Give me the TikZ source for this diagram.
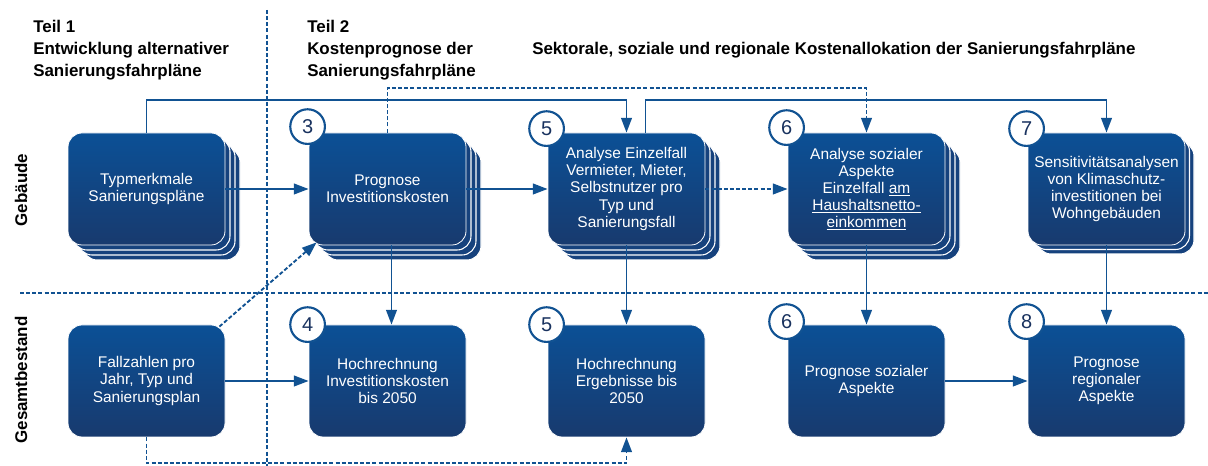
\documentclass[tikz,border=0pt]{standalone}
\usepackage{fontspec}
\setmainfont{Liberation Sans}
\usetikzlibrary{arrows.meta,calc}
\definecolor{lc}{RGB}{17,82,146}
\definecolor{bxtop}{RGB}{11,80,150}
\definecolor{bxbot}{RGB}{24,58,110}
\definecolor{layerc}{RGB}{22,66,125}
\definecolor{numc}{RGB}{25,50,95}
\newcommand{\stk}[4]{%
  \foreach \k in {#3,...,1} {
    \draw[layer] (#1-78.5+\k*#4, #2-56+\k*#4) rectangle ++(157,112);
  }}
\begin{document}
\begin{tikzpicture}[x=0.75pt,y=-0.75pt,
  box/.style={rounded corners=10.5pt, minimum width=117.75pt, minimum height=84pt,
    top color=bxtop, bottom color=bxbot, draw=white, line width=0.6pt,
    text=white, align=center, inner sep=0pt,
    font=\fontsize{11.6pt}{12.8pt}\selectfont},
  layer/.style={rounded corners=10.5pt, fill=layerc, draw=white, line width=0.8pt},
  conn/.style={draw=lc, line width=1.4pt, -{Triangle[length=11pt,width=8pt]}},
  plain/.style={draw=lc, line width=1.4pt},
  dsh/.style={dash pattern=on 3pt off 1.6pt},
  sep/.style={draw=lc, line width=1.1pt, dash pattern=on 3pt off 1.6pt},
  hdr/.style={font=\bfseries\fontsize{12.7pt}{16.5pt}\selectfont, inner sep=0pt, align=left, text=black},
  num/.style={circle, draw=lc, line width=1.6pt, fill=white, minimum size=26pt, inner sep=0pt,
    text=numc, font=\fontsize{15pt}{15pt}\selectfont}
]
\useasboundingbox (0,0) rectangle (1208,466);

% headers
\node[hdr, anchor=north west] (t1) at (33,20) {Teil 1\\Entwicklung alternativer\\Sanierungsfahrpläne};
\node[hdr, anchor=north west] (t2) at (307,20) {Teil 2\\Kostenprognose der\\Sanierungsfahrpläne};
\node[hdr, anchor=north west] (t3) at (532,42) {Sektorale, soziale und regionale Kostenallokation der Sanierungsfahrpläne};
\node[hdr, rotate=90] (rg) at (21,190) {Gebäude};
\node[hdr, rotate=90] (rb) at (21,380) {Gesamtbestand};

% separators
\coordinate (s1) at (267,10);
\coordinate (s2) at (267,466);
\coordinate (s3) at (20,293);
\coordinate (s4) at (1208,293);
\draw[sep] (s1) -- (s2);
\draw[sep] (s3) -- (s4);

% stacks
\stk{146.5}{189}{3}{5}
\stk{387.5}{189}{3}{5}
\stk{626.5}{189}{3}{5}
\stk{866.5}{189}{3}{5}
\stk{1106.5}{189}{2}{4.5}

% boxes
\node[box] (nA) at (146.5,189) {Typmerkmale\\Sanierungspläne};
\node[box] (n3) at (387.5,189) {Prognose\\Investitionskosten};
\node[box] (n5) at (626.5,189) {Analyse Einzelfall\\Vermieter, Mieter,\\Selbstnutzer pro\\Typ und\\Sanierungsfall};
\node[box] (n6) at (866.5,189) {Analyse sozialer\\Aspekte\\Einzelfall \underline{am}\\\underline{Haushaltsnetto-}\\\underline{einkommen}};
\node[box] (n7) at (1106.5,189) {Sensitivitätsanalysen\\von Klimaschutz-\\investitionen bei\\Wohngebäuden};

\node[box] (nF) at (146.5,381) {Fallzahlen pro\\Jahr, Typ und\\Sanierungsplan};
\node[box] (n4) at (387.5,381) {Hochrechnung\\Investitionskosten\\bis 2050};
\node[box] (n5b) at (626.5,381) {Hochrechnung\\Ergebnisse bis\\2050};
\node[box] (n6b) at (866.5,381) {Prognose sozialer\\Aspekte};
\node[box] (n8) at (1106.5,381) {Prognose\\regionaler\\Aspekte};

% helper coordinates
\coordinate (h0) at (0,88);
\coordinate (h1) at (0,100);
\coordinate (hb) at (0,463);
\coordinate (p5) at ($(n5.north)+(19,0)$);
\coordinate (p3) at ($(n3.south)+(4,0)$);

% connectors
\draw[conn] (nA.north) -- (nA.north |- h1) -| (n5.north);
\draw[conn,dsh] (n3.north) -- (n3.north |- h0) -| (n6.north);
\draw[conn] (p5) -- (p5 |- h1) -| (n7.north);
\draw[conn] (nA.east) -- (n3.west);
\draw[conn] (n3.east) -- (n5.west);
\draw[conn,dsh] (n5.east) -- (n6.west);
\draw[conn] (p3) -- (p3 |- n4.north);
\draw[conn] (n5.south) -- (n5b.north);
\draw[conn] (n6.south) -- (n6b.north);
\draw[conn] (n7.south) -- (n8.north);
\draw[conn] (nF.east) -- (n4.west);
\draw[conn] (n6b.east) -- (n8.west);
\draw[conn,dsh] ($(nF.north east)+(-6,2)$) -- ($(n3.south west)+(8,-3)$);
\draw[conn,dsh] (nF.south) -- (nF.south |- hb) -| (n5b.south);

% numbers
\node[num] (c3) at ($(n3.north west)+(-1,-6)$) {3};
\node[num] (c5) at ($(n5.north west)+(-1,-4)$) {5};
\node[num] (c6) at ($(n6.north west)+(-1,-5)$) {6};
\node[num] (c7) at ($(n7.north west)+(-1,-4)$) {7};
\node[num] (c4) at ($(n4.north west)+(-1,0)$) {4};
\node[num] (c5b) at ($(n5b.north west)+(-1,0)$) {5};
\node[num] (c6b) at ($(n6b.north west)+(-1,-3)$) {6};
\node[num] (c8) at ($(n8.north west)+(-1,-3)$) {8};
\end{tikzpicture}
\end{document}
